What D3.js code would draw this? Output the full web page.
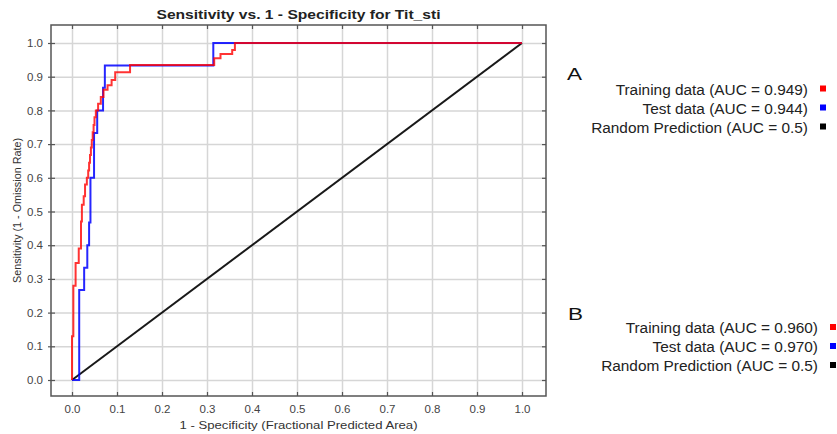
<!DOCTYPE html>
<html>
<head>
<meta charset="utf-8">
<script src="https://cdn.jsdelivr.net/npm/d3@7"></script>
<style>
  body { margin: 0; background: #fff; }
  text { font-family: "Liberation Sans", Arial, sans-serif; }
</style>
</head>
<body>
<svg id="chart" width="837" height="434"></svg>
<script>
// chart values
var tickValues = [0, 0.1, 0.2, 0.3, 0.4, 0.5, 0.6, 0.7, 0.8, 0.9, 1.0];

// step corners of the ROC curves (x = 1 - specificity, y = sensitivity)
var trainFpr = [0, 0, 0.003, 0.008, 0.015, 0.020, 0.022, 0.026, 0.029, 0.033, 0.036, 0.038, 0.040,
    0.042, 0.044, 0.046, 0.048, 0.050, 0.053, 0.058, 0.064, 0.070, 0.079, 0.088, 0.096, 0.129,
    0.316, 0.330, 0.356, 0.362, 1];
var trainTpr = [0, 0.13, 0.28, 0.347, 0.39, 0.47, 0.52, 0.545, 0.58, 0.60, 0.622, 0.645, 0.668,
    0.69, 0.712, 0.735, 0.757, 0.78, 0.80, 0.82, 0.84, 0.861, 0.875, 0.890, 0.913, 0.935,
    0.955, 0.967, 0.979, 1.0, 1.0];

var testFpr = [0, 0.016, 0.027, 0.034, 0.038, 0.041, 0.049, 0.056, 0.069, 0.073, 0.314, 1];
var testTpr = [0, 0.267, 0.333, 0.4, 0.467, 0.6, 0.733, 0.8, 0.867, 0.933, 1.0, 1.0];

var randomFpr = [0, 1];
var randomTpr = [0, 1];

var seriesColors = ['#ff0000', '#0000ff', '#000000'];
var legendA = ['Training data (AUC = 0.949)', 'Test data (AUC = 0.944)', 'Random Prediction (AUC = 0.5)'];
var legendB = ['Training data (AUC = 0.960)', 'Test data (AUC = 0.970)', 'Random Prediction (AUC = 0.5)'];

var svg = d3.select('#chart');

var frame = { left: 51, top: 25, right: 546, bottom: 396 };
var x = d3.scaleLinear().domain([0, 1]).range([72, 522]);
var y = d3.scaleLinear().domain([0, 1]).range([380, 43]);

// grid
svg.append('g')
    .attr('transform', 'translate(0,' + frame.top + ')')
    .call(d3.axisBottom(x).tickValues(tickValues).tickSize(frame.bottom - frame.top).tickFormat(''))
    .call(g => g.select('.domain').remove())
    .selectAll('line').attr('stroke', '#d6d6d6').attr('stroke-width', 1.5);
svg.append('g')
    .attr('transform', 'translate(' + frame.left + ',0)')
    .call(d3.axisRight(y).tickValues(tickValues).tickSize(frame.right - frame.left).tickFormat(''))
    .call(g => g.select('.domain').remove())
    .selectAll('line').attr('stroke', '#d6d6d6').attr('stroke-width', 1.5);

// curves
function drawCurve(xs, ys, color, curve, opacity) {
    var pts = xs.map((d, i) => [d, ys[i]]);
    var line = d3.line().x(d => x(d[0])).y(d => y(d[1])).curve(curve);
    svg.append('path')
        .datum(pts)
        .attr('d', line)
        .attr('fill', 'none')
        .attr('stroke', color)
        .attr('stroke-width', 2)
        .attr('stroke-opacity', opacity);
}
drawCurve(randomFpr, randomTpr, seriesColors[2], d3.curveLinear, 0.9);
drawCurve(testFpr, testTpr, seriesColors[1], d3.curveStepAfter, 0.85);
drawCurve(trainFpr, trainTpr, seriesColors[0], d3.curveStepAfter, 0.8);

// frame
svg.append('rect')
    .attr('x', frame.left).attr('y', frame.top)
    .attr('width', frame.right - frame.left).attr('height', frame.bottom - frame.top)
    .attr('fill', 'none').attr('stroke', '#555').attr('stroke-width', 1.5);

// axes with tick labels
svg.append('g')
    .attr('class', 'ax')
    .attr('transform', 'translate(0,' + frame.bottom + ')')
    .call(d3.axisBottom(x).tickValues(tickValues).tickFormat(d3.format('.1f')).tickSize(-4).tickPadding(9));
svg.append('g')
    .attr('class', 'ax')
    .attr('transform', 'translate(' + frame.left + ',0)')
    .call(d3.axisLeft(y).tickValues(tickValues).tickFormat(d3.format('.1f')).tickSize(3).tickPadding(5));
svg.append('g')
    .attr('class', 'ax')
    .attr('transform', 'translate(' + frame.left + ',0)')
    .call(d3.axisLeft(y).tickValues(tickValues).tickFormat('').tickSize(-4));
svg.append('g')
    .attr('class', 'ax')
    .attr('transform', 'translate(' + frame.right + ',0)')
    .call(d3.axisRight(y).tickValues(tickValues).tickFormat('').tickSize(-4));
svg.append('g')
    .attr('class', 'ax')
    .attr('transform', 'translate(0,' + frame.top + ')')
    .call(d3.axisTop(x).tickValues(tickValues).tickFormat('').tickSize(-4));

svg.selectAll('.ax .domain').remove();
svg.selectAll('.ax .tick line').attr('stroke', '#555').attr('stroke-width', 1.2);
svg.selectAll('.ax .tick text').attr('fill', '#444').attr('font-size', 11.5);

// titles (the reference type is set a bit wider than Arial, so fit to its measured length)
svg.append('text')
    .attr('x', (frame.left + frame.right) / 2).attr('y', 19)
    .attr('text-anchor', 'middle').attr('font-size', 12).attr('font-weight', 'bold').attr('fill', '#222')
    .attr('textLength', 284).attr('lengthAdjust', 'spacingAndGlyphs')
    .text('Sensitivity vs. 1 - Specificity for Tit_sti');
svg.append('text')
    .attr('x', (frame.left + frame.right) / 2).attr('y', 429)
    .attr('text-anchor', 'middle').attr('font-size', 11.5).attr('fill', '#333')
    .attr('textLength', 238).attr('lengthAdjust', 'spacingAndGlyphs')
    .text('1 - Specificity  (Fractional Predicted Area)');
svg.append('text')
    .attr('transform', 'translate(21,' + (frame.top + frame.bottom) / 2 + ') rotate(-90)')
    .attr('text-anchor', 'middle').attr('font-size', 10).attr('fill', '#333')
    .attr('textLength', 145).attr('lengthAdjust', 'spacingAndGlyphs')
    .text('Sensitivity  (1 - Omission Rate)');

// legends
function drawLegend(letter, labels, letterX, letterY, textRight, firstBaseline) {
    svg.append('text')
        .attr('x', letterX).attr('y', letterY)
        .attr('font-size', 16).attr('fill', '#111')
        .attr('textLength', 15).attr('lengthAdjust', 'spacingAndGlyphs')
        .text(letter);
    var rows = svg.append('g').selectAll('g')
        .data(labels)
        .join('g')
        .attr('transform', (d, i) => 'translate(0,' + (firstBaseline + i * 19) + ')');
    rows.append('text')
        .attr('x', textRight).attr('text-anchor', 'end')
        .attr('font-size', 15.4).attr('fill', '#222')
        .text(d => d);
    rows.append('rect')
        .attr('x', textRight + 12).attr('y', -9)
        .attr('width', 6).attr('height', 6)
        .attr('fill', (d, i) => seriesColors[i]);
}
drawLegend('A', legendA, 567, 80, 808, 94.5);
drawLegend('B', legendB, 568, 320, 818, 333);
</script>
</body>
</html>
